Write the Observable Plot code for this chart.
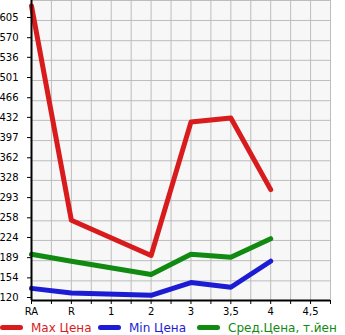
<!DOCTYPE html>
<html>
<head>
<meta charset="utf-8">
<script src="https://cdn.jsdelivr.net/npm/d3@7"></script>
<script src="https://cdn.jsdelivr.net/npm/@observablehq/plot@0.6"></script>
<style>
  html, body { margin: 0; padding: 0; background: white; }
  #chart svg { display: block; }
  .legend { position: relative; height: 17px; font-family: "DejaVu Sans", sans-serif; font-size: 12px; }
  .item { position: absolute; top: 1px; height: 17px; display: flex; align-items: center; white-space: nowrap; }
  .sw { width: 23px; height: 5px; border-radius: 3px; margin-right: 8px; }
</style>
</head>
<body>
<div id="chart"></div>
<div class="legend" id="legend"></div>
<script>
const categories = ["RA", "R", "1", "2", "3", "3,5", "4", "4,5"];
const pointCats = ["RA", "R", "2", "3", "3,5", "4"];
const maxValues = [630, 259, 198, 429, 436, 312];
const minValues = [141, 133, 129, 151, 143, 188];
const avgValues = [200, 188, 165, 200, 195, 227];
const yTicks = [120, 154, 189, 224, 258, 293, 328, 362, 397, 432, 466, 501, 536, 570, 605];
const seriesNames = ["Max Цена", "Min Цена", "Сред.Цена, т.йен"];
const colors = ["#d81c1e", "#1c1cd4", "#118a11"];

const yTop = 639.6;
const rows = (vals) => pointCats.map((c, i) => ({x: categories.indexOf(c), y: vals[i]}));
const series = [maxValues, minValues, avgValues];
const halfSteps = d3.range(0, 7.51, 0.5);

const chart = Plot.plot({
  width: 345,
  height: 318,
  marginLeft: 31,
  marginRight: 15,
  marginTop: 0,
  marginBottom: 18,
  x: {type: "linear", domain: [0, 7.5], axis: null},
  y: {domain: [120, yTop], axis: null},
  style: {fontFamily: "DejaVu Sans, sans-serif", fontSize: "10px", background: "white", color: "black"},
  marks: [
    Plot.frame({fill: "#f7f7f7", stroke: null}),
    Plot.gridX(halfSteps, {stroke: "#bdbdbd", strokeOpacity: 1}),
    Plot.gridY([...yTicks, yTop], {stroke: "#bdbdbd", strokeOpacity: 1}),
    ...series.map((vals, k) => Plot.line(rows(vals), {
      x: "x", y: "y", stroke: colors[k], strokeWidth: 5,
      strokeLinejoin: "round", strokeLinecap: "round"
    })),
    Plot.axisX(halfSteps, {
      tickSize: 4, tickPadding: 3, stroke: "black", label: null,
      tickFormat: d => Number.isInteger(d) ? categories[d] : ""
    }),
    Plot.axisY(yTicks, {
      tickSize: 4, tickPadding: 9, stroke: "black", dy: -3, label: null,
      tickFormat: d => String(d)
    }),
    Plot.ruleX([0], {stroke: "black", strokeWidth: 2}),
    Plot.ruleY([120], {stroke: "black", strokeWidth: 2})
  ]
});
document.getElementById("chart").appendChild(chart);

const lefts = [0, 98, 197];
const legend = document.getElementById("legend");
seriesNames.forEach((name, k) => {
  const item = document.createElement("div");
  item.className = "item";
  item.style.left = lefts[k] + "px";
  item.style.color = colors[k];
  const sw = document.createElement("div");
  sw.className = "sw";
  sw.style.background = colors[k];
  item.appendChild(sw);
  item.appendChild(document.createTextNode(name));
  legend.appendChild(item);
});
</script>
</body>
</html>
